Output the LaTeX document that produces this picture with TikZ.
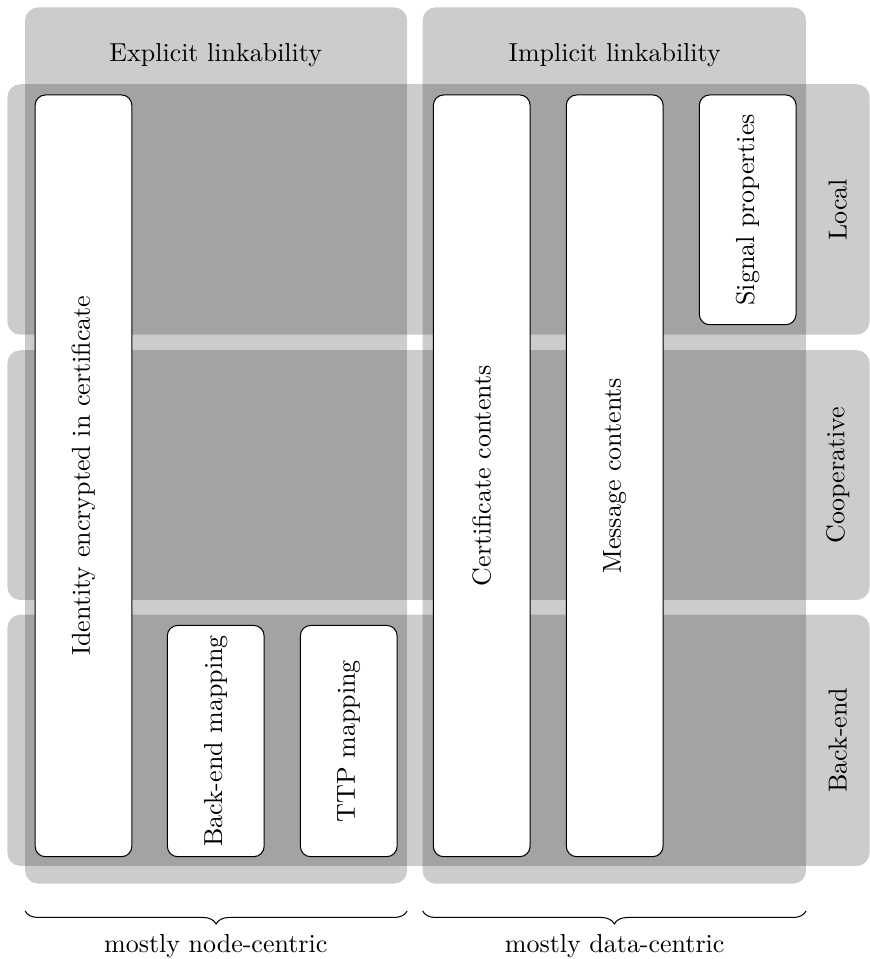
\documentclass[tikz,border=0pt]{standalone}
\usetikzlibrary{decorations.pathreplacing}
\begin{document}
\begin{tikzpicture}[
  layer/.style={fill=black, fill opacity=0.2, rounded corners=5pt},
  item/.style={draw, fill=white, rounded corners, rotate=90, minimum height=1.31cm},
  brc/.style={decorate, decoration={brace, mirror, amplitude=5pt}}
]
\useasboundingbox (0,0) rectangle (11.77,-12.98);
% Draw the two columns
\fill[layer] (0.34,-0.10) rectangle (5.51,-11.96);
\fill[layer] (5.72,-0.10) rectangle (10.91,-11.96);
% Draw the three rows, they run to the right edge
\foreach \top/\bot in {1.14/4.53, 4.74/8.12, 8.32/11.72}
{
  \fill[layer] (0.10,-\top) rectangle (11.77,-\bot);
}
% Column and row titles
\node (expl) at (2.92,-0.75) {Explicit linkability};
\node (impl) at (8.32,-0.75) {Implicit linkability};
\node[rotate=90] (local) at (11.34,-2.84) {Local};
\node[rotate=90] (coop) at (11.34,-6.43) {Cooperative};
\node[rotate=90] (back) at (11.34,-10.02) {Back-end};
% The long boxes go through all three rows
\foreach \x/\name/\txt in {1.13/ident/Identity encrypted in certificate,
                           6.52/cert/Certificate contents,
                           8.32/msg/Message contents}
{
  \node[item, minimum width=10.31cm] (\name) at (\x,-6.44) {\txt};
}
% Short boxes, only in one row
\node[item, minimum width=3.13cm] (bmap) at (2.92,-10.03) {Back-end mapping};
\node[item, minimum width=3.13cm] (ttp) at (4.72,-10.03) {TTP mapping};
\node[item, minimum width=3.11cm] (sig) at (10.12,-2.84) {Signal properties};
% Braces under the columns
\coordinate (bl1) at (0.34,-12.33);
\coordinate (br1) at (5.51,-12.33);
\coordinate (bl2) at (5.72,-12.33);
\coordinate (br2) at (10.91,-12.33);
\draw[brc] (bl1) -- (br1);
\draw[brc] (bl2) -- (br2);
\node (nodec) at (2.92,-12.81) {mostly node-centric};
\node (datac) at (8.32,-12.81) {mostly data-centric};
\end{tikzpicture}
\end{document}
